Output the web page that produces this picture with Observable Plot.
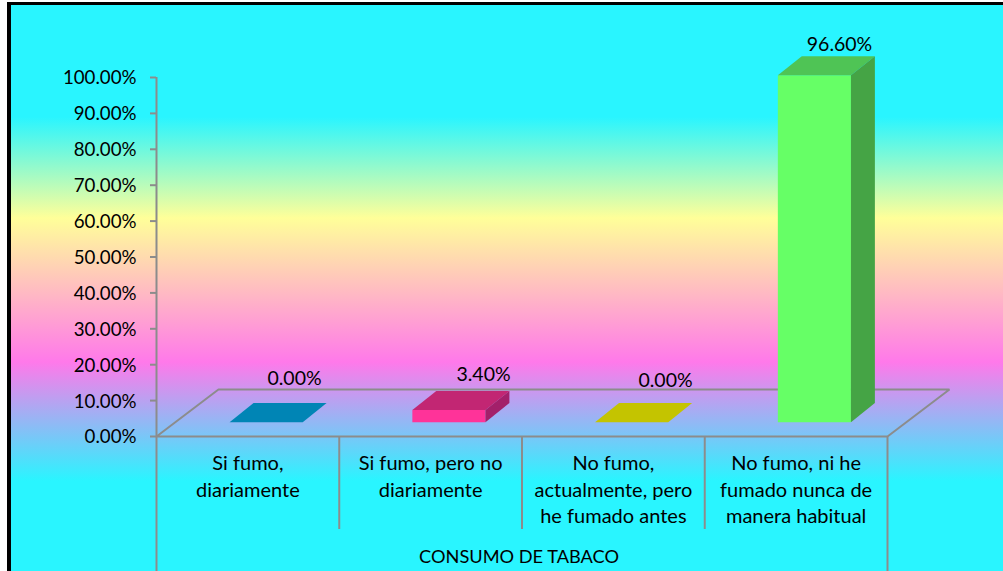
<!DOCTYPE html>
<html><head><meta charset="utf-8">
<script src="https://cdn.jsdelivr.net/npm/d3@7"></script>
<script src="https://cdn.jsdelivr.net/npm/@observablehq/plot@0.6"></script>
<style>
html,body{margin:0;padding:0;background:#fff;overflow:hidden}
#wrap{position:relative;width:1003px;height:571px;overflow:hidden}
#bg{position:absolute;left:7px;top:2px;width:1010px;height:590px;box-sizing:border-box;border:3px solid #000;border-left-width:4px;
background:linear-gradient(to bottom,#29f5ff 0,#29f5ff 112px,#ffff99 213px,#ff79ea 357px,#29f5ff 476px,#29f5ff 100%)}
#chart{position:absolute;left:0;top:0}
svg{background:transparent!important;overflow:visible}
</style></head><body>
<div id="wrap"><div id="bg"></div><div id="chart"></div></div>
<script>
const categories = ["Si fumo,\ndiariamente","Si fumo, pero no\ndiariamente","No fumo,\nactualmente, pero\nhe fumado antes","No fumo, ni he\nfumado nunca de\nmanera habitual"];
const values = [0, 3.4, 0, 96.6];
const valueLabels = ["0.00%","3.40%","0.00%","96.60%"];
const axisTicks = [0,10,20,30,40,50,60,70,80,90,100];
const axisTitle = "CONSUMO DE TABACO";

// drawing styles
const frontColors = ["#0a8fc4","#ff3399","#d8d800","#66ff66"];
const topColors   = ["#0085b5","#c22673","#c4c400","#4fc455"];
const sideColors  = ["#006f98","#a3206a","#a3a300","#45a445"];
const grey = "#8c8c8c";
const font = "Lato, 'Open Sans', sans-serif";
// oblique projection, in scale units
const floorDx = 0.339, floorDy = 13.1;
const barLeft = 0.4, barW = 0.4, barBase = 4, barDx = 0.131, barDy = 5.3;
const labelOffsets = [[294,378.5],[483,374.5],[665,380.5],[839,44.5]];

const polys = [];
values.forEach((v,i)=>{
  const l=i+barLeft, r=l+barW, b=barBase, t=barBase+v;
  const add=(part,fill,pts)=>pts.forEach(([x,y])=>polys.push({id:i+part,fill,x,y}));
  if (v>0) add("front",frontColors[i],[[l,b],[r,b],[r,t],[l,t]]);
  add("top",topColors[i],[[l,t],[r,t],[r+barDx,t+barDy],[l+barDx,t+barDy]]);
  if (v>0) add("side",sideColors[i],[[r,b],[r+barDx,b+barDy],[r+barDx,t+barDy],[r,t]]);
});
const floor=[[0,0],[4,0],[4+floorDx,floorDy],[floorDx,floorDy],[0,0]].map(([x,y])=>({x,y}));
const X=d3.scaleLinear([0,4],[156,887]), Y=d3.scaleLinear([0,100],[436,77]);

const plot = Plot.plot({
  width:1003,height:571,
  marginLeft:156,marginRight:116,marginTop:77,marginBottom:135,
  style:{background:"transparent",fontFamily:font,fontSize:"18.7px",color:"#000"},
  x:{domain:[0,4],axis:null},
  y:{domain:[0,100],axis:null},
  marks:[
    Plot.line(floor,{x:"x",y:"y",stroke:grey,strokeWidth:2,strokeLinejoin:"miter"}),
    Plot.ruleX([0],{y1:0,y2:100,stroke:grey,strokeWidth:2}),
    Plot.ruleY(axisTicks,{x1:X.invert(150),x2:0,stroke:grey,strokeWidth:2}),
    Plot.text(axisTicks,{x:0,y:d=>d,dx:-20,dy:1,text:d=>d.toFixed(2)+"%",textAnchor:"end",fontSize:18.7,fill:"#000"}),
    Plot.ruleX([1,2,3],{y1:0,y2:-25.9,stroke:grey,strokeWidth:2}),
    Plot.ruleX([0,4],{y1:0,y2:-38,stroke:grey,strokeWidth:2}),
    Plot.line(polys,{x:"x",y:"y",z:"id",fill:"fill",stroke:null}),
    Plot.text(categories,{x:(d,i)=>i+0.5,y:0,dy:15,text:d=>d,lineAnchor:"top",lineHeight:1.325,fontSize:20,fill:"#000"}),
    ...valueLabels.map((t,i)=>Plot.text([t],{x:X.invert(labelOffsets[i][0]),y:Y.invert(labelOffsets[i][1]),text:d=>d,fontSize:19.5,fill:"#000"})),
    Plot.text([axisTitle],{x:2,dx:-3,y:Y.invert(557),text:d=>d,fontSize:18.2,fill:"#000"})
  ]
});
document.getElementById("chart").appendChild(plot);
</script>
</body></html>
